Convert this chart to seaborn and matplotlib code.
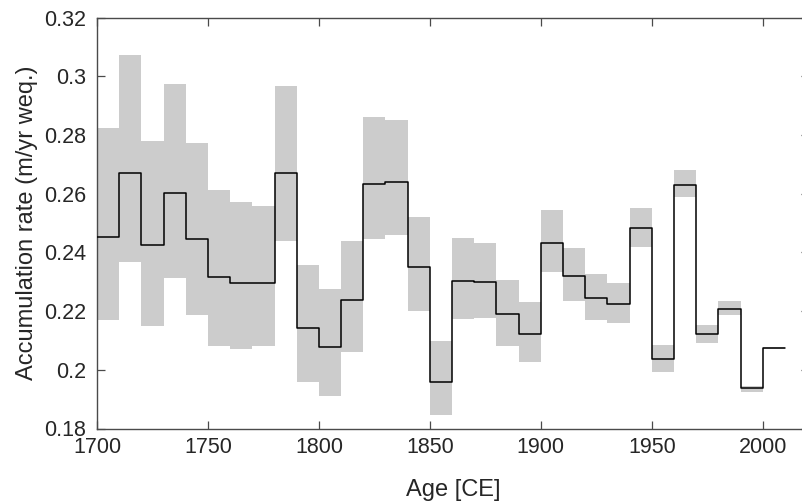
import numpy as np
import pandas as pd
import matplotlib
matplotlib.use("Agg")
import matplotlib.pyplot as plt
import seaborn as sns

# Decadal bins (start year of each 10-year interval)
bin_start = [1700, 1710, 1720, 1730, 1740, 1750, 1760, 1770, 1780, 1790,
             1800, 1810, 1820, 1830, 1840, 1850, 1860, 1870, 1880, 1890,
             1900, 1910, 1920, 1930, 1940, 1950, 1960, 1970, 1980, 1990,
             2000]
bin_width = 10

# Mean accumulation rate per bin (m/yr weq.)
acc_mean = [0.2454, 0.2671, 0.2424, 0.2603, 0.2445, 0.2316, 0.2296, 0.2295,
            0.2672, 0.2142, 0.2076, 0.2237, 0.2633, 0.2639, 0.2349, 0.1960,
            0.2303, 0.2299, 0.2189, 0.2123, 0.2433, 0.2320, 0.2245, 0.2224,
            0.2483, 0.2037, 0.2631, 0.2122, 0.2208, 0.1938, 0.2074]

# Uncertainty envelope per bin
acc_upper = [0.2825, 0.3071, 0.2780, 0.2974, 0.2771, 0.2611, 0.2573, 0.2558,
             0.2966, 0.2358, 0.2276, 0.2438, 0.2862, 0.2852, 0.2522, 0.2098,
             0.2450, 0.2433, 0.2306, 0.2231, 0.2545, 0.2415, 0.2326, 0.2295,
             0.2552, 0.2084, 0.2682, 0.2153, 0.2233, 0.1945, 0.2078]
acc_lower = [0.2170, 0.2366, 0.2149, 0.2314, 0.2185, 0.2080, 0.2071, 0.2081,
             0.2438, 0.1960, 0.1910, 0.2061, 0.2445, 0.2460, 0.2200, 0.1845,
             0.2173, 0.2176, 0.2080, 0.2025, 0.2334, 0.2235, 0.2169, 0.2158,
             0.2419, 0.1991, 0.2587, 0.2091, 0.2185, 0.1925, 0.2070]

x_ticks = [1700, 1750, 1800, 1850, 1900, 1950, 2000]
y_ticks = [0.18, 0.2, 0.22, 0.24, 0.26, 0.28, 0.3, 0.32]
y_tick_labels = ["0.18", "0.2", "0.22", "0.24", "0.26", "0.28", "0.3", "0.32"]

sns.set_theme(style="white")
plt.rcParams["font.family"] = ["Liberation Sans", "DejaVu Sans"]

# Step edges: each bin's value is held until the next bin starts
edges = list(bin_start) + [bin_start[-1] + bin_width]
df = pd.DataFrame({
    "year": edges,
    "mean": list(acc_mean) + [acc_mean[-1]],
    "upper": list(acc_upper) + [acc_upper[-1]],
    "lower": list(acc_lower) + [acc_lower[-1]],
})

# The axes run slightly past the right edge of the canvas
px_per_year = (762.7 - 97) / 300
x_right_px = 809
x_max = 1700 + (x_right_px - 97) / px_per_year

fig = plt.figure(figsize=(8.03, 5.04), dpi=100)
ax = fig.add_axes([97 / 803, 1 - 428.5 / 504, (x_right_px - 97) / 803,
                   (428.5 - 17.5) / 504])

ax.fill_between(df["year"], df["lower"], df["upper"], step="post",
                color="#cccccc", linewidth=0, zorder=1)
sns.lineplot(data=df, x="year", y="mean", ax=ax, color="black",
             linewidth=1.1, drawstyle="steps-post", zorder=3)

ax.set_xlim(1700, x_max)
ax.set_ylim(0.18, 0.32)
ax.set_xticks(x_ticks)
ax.set_xticklabels([str(t) for t in x_ticks])
ax.set_yticks(y_ticks)
ax.set_yticklabels(y_tick_labels)

axis_col = "#4a4a4a"
for s in ax.spines.values():
    s.set_visible(True)
    s.set_color(axis_col)
    s.set_linewidth(1.0)
# right border lies beyond the canvas edge
ax.spines["right"].set_visible(False)

ax.tick_params(axis="both", which="major", direction="in", length=5.5,
               width=0.9, color=axis_col, labelsize=15.5, labelcolor="#262626",
               top=True, right=True, bottom=True, left=True)
ax.tick_params(axis="x", pad=6)
ax.tick_params(axis="y", pad=8)

ax.set_xlabel("Age [CE]", fontsize=17, color="#262626", labelpad=15)
ax.set_ylabel("Accumulation rate (m/yr weq.)", fontsize=17, color="#262626",
              labelpad=4)
ax.grid(False)

fig.savefig("out.png", dpi=100)
